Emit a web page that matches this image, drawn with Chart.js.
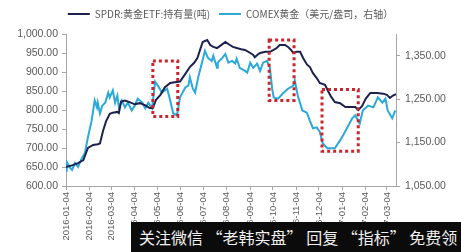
<!DOCTYPE html>
<html>
<head>
<meta charset="utf-8">
<script src="https://cdn.jsdelivr.net/npm/chart.js@4/dist/chart.umd.min.js"></script>
<style>
body { margin: 0; background: #fff; }
#wrap { position: relative; width: 461px; height: 252px; }
#mark { position: absolute; left: 131px; top: 222px; width: 330px; height: 30px; background: #0b0b0b; color: #f0f0f0;
        font: 16px "Noto Sans CJK SC"; line-height: 30px; padding-left: 8px; box-sizing: border-box; white-space: nowrap; overflow: hidden; }
</style>
</head>
<body>
<div id="wrap">
  <canvas id="c" width="461" height="252"></canvas>
  <div id="mark">关注微信 “老韩实盘” 回复 “指标” 免费领</div>
</div>
<script>
// days counted from 2016-01-04
const monthDay = [0, 31, 60, 91, 121, 152, 182, 213, 244, 274, 305, 335, 366, 397, 425];
const monthLabel = ['2016-01-04', '2016-02-04', '2016-03-04', '2016-04-04', '2016-05-04', '2016-06-04', '2016-07-04',
    '2016-08-04', '2016-09-04', '2016-10-04', '2016-11-04', '2016-12-04', '2017-01-04', '2017-02-04', '2017-03-04'];

// SPDR 黄金ETF 持有量 (吨)
const spdrDay = [0, 9, 16, 23, 29, 36, 42, 45, 49, 53, 58, 62, 68, 70, 73, 78, 85, 91, 98, 105, 111, 115, 119, 125, 131,
    138, 144, 151, 158, 164, 170, 174, 177, 181, 187, 191, 195, 200, 205, 211, 217, 221, 226, 232, 237, 244, 248, 250, 254, 257,
    264, 270, 275, 279, 283, 290, 294, 298, 301, 305, 310, 314, 319, 323, 327, 332, 336, 343, 347, 351, 356, 363, 370, 376, 383,
    387, 392, 397, 403, 412, 420, 425, 429, 433, 437];
const spdrTons = [650, 655, 660, 668, 700, 708, 710, 712, 745, 770, 790, 793, 795, 792, 822, 825, 820, 815, 818, 812, 805, 805, 826, 840, 860,
    871, 873, 875, 895, 913, 925, 937, 955, 979, 984, 971, 966, 963, 970, 979, 971, 966, 963, 960, 958, 950, 945, 939, 946, 950,
    953, 953, 958, 963, 971, 971, 966, 958, 950, 953, 953, 937, 920, 913, 897, 884, 871, 866, 850, 835, 821, 818, 808, 808, 808,
    800, 810, 830, 845, 845, 843, 840, 832, 838, 842];

// COMEX 黄金 (美元/盎司)
const comexDay = [0, 1, 5, 8, 12, 16, 21, 25, 29, 34, 38, 41, 42, 45, 48, 52, 56, 58, 62, 65, 68, 70, 74, 78, 82,
    87, 91, 95, 101, 105, 109, 114, 118, 122, 127, 134, 138, 142, 147, 151, 158, 162, 164, 168, 171, 175, 180, 184, 188, 193,
    195, 200, 201, 207, 211, 215, 220, 224, 226, 230, 237, 240, 244, 248, 253, 257, 261, 266, 270, 273, 275, 281, 287, 294, 301,
    303, 307, 313, 319, 323, 327, 332, 336, 340, 346, 352, 356, 363, 367, 372, 379, 383, 389, 393, 400, 407, 413, 419, 423, 426,
    432, 436];
const comexPrice = [1085, 1105, 1093, 1087, 1103, 1094, 1114, 1126, 1162, 1201, 1247, 1231, 1242, 1217, 1235, 1242, 1265, 1254, 1270, 1242,
    1258, 1231, 1247, 1231, 1242, 1224, 1235, 1251, 1242, 1229, 1242, 1229, 1290, 1280, 1265, 1274, 1247, 1217, 1213, 1254,
    1277, 1281, 1300, 1274, 1265, 1300, 1334, 1361, 1345, 1338, 1350, 1322, 1334, 1345, 1354, 1334, 1338, 1332, 1343, 1322,
    1315, 1311, 1334, 1322, 1332, 1315, 1334, 1338, 1322, 1274, 1254, 1251, 1263, 1274, 1281, 1293, 1258, 1224, 1219, 1200,
    1183, 1185, 1175, 1148, 1137, 1137, 1137, 1155, 1167, 1183, 1206, 1213, 1194, 1224, 1235, 1231, 1254, 1242, 1251, 1224,
    1206, 1224];

const rightTicks = [1050, 1150, 1250, 1350];

// 红色虚线框 (日期范围, 右轴价格范围)
const boxFrom = [115, 269, 339];
const boxTo = [148, 302, 387];
const boxHigh = [1338, 1386, 1272];
const boxLow = [1210, 1247, 1130];

function fmt(v) {
    let s = v.toFixed(2);
    let [a, b] = s.split('.');
    a = a.replace(/\B(?=(\d{3})+(?!\d))/g, ',');
    return a + '.' + b;
}

const legendHeight = {
    id: 'legendHeight',
    beforeInit(chart) {
        const fit = chart.legend.fit;
        chart.legend.fit = function () {
            fit.bind(chart.legend)();
            this.height = 34;
        };
    }
};

const redBoxes = {
    id: 'redBoxes',
    afterDatasetsDraw(chart) {
        const ctx = chart.ctx;
        const x = chart.scales.x, y1 = chart.scales.y1;
        ctx.save();
        ctx.strokeStyle = '#c9252c';
        ctx.lineWidth = 3;
        ctx.setLineDash([3, 3]);
        for (let i = 0; i < boxFrom.length; i++) {
            const x0 = x.getPixelForValue(boxFrom[i]);
            const x1 = x.getPixelForValue(boxTo[i]);
            const yt = y1.getPixelForValue(boxHigh[i]);
            const yb = y1.getPixelForValue(boxLow[i]);
            ctx.strokeRect(x0, yt, x1 - x0, yb - yt);
        }
        ctx.restore();
    }
};

const axisGrid = { display: true, drawOnChartArea: false, drawTicks: true, tickLength: 4, color: '#a6a6a6' };
const tickFont = { family: 'Liberation Sans', size: 10.5 };

new Chart(document.getElementById('c'), {
    type: 'line',
    data: {
        datasets: [{
            label: 'SPDR:黄金ETF:持有量(吨)',
            data: spdrDay.map((d, i) => ({ x: d, y: spdrTons[i] })),
            borderColor: '#1d2150',
            backgroundColor: '#1d2150',
            borderWidth: 2,
            pointRadius: 0,
            tension: 0,
            yAxisID: 'y'
        }, {
            label: 'COMEX黄金（美元/盎司，右轴）',
            data: comexDay.map((d, i) => ({ x: d, y: comexPrice[i] })),
            borderColor: '#2ba9d8',
            backgroundColor: '#2ba9d8',
            borderWidth: 2,
            pointRadius: 0,
            tension: 0,
            yAxisID: 'y1'
        }]
    },
    options: {
        responsive: false,
        animation: false,
        layout: { padding: 0 },
        plugins: {
            legend: {
                position: 'top',
                labels: {
                    usePointStyle: true,
                    pointStyle: 'line',
                    pointStyleWidth: 22,
                    padding: 9,
                    color: '#595959',
                    font: { family: 'Noto Sans CJK SC', size: 10 }
                }
            },
            tooltip: { enabled: false }
        },
        scales: {
            x: {
                type: 'linear',
                min: 0,
                max: 437,
                afterBuildTicks: s => { s.ticks = monthDay.map(v => ({ value: v })); },
                afterFit: s => { s.height = 66; },
                ticks: {
                    autoSkip: false,
                    minRotation: 90,
                    maxRotation: 90,
                    padding: 2,
                    color: '#595959',
                    font: { family: 'Liberation Sans', size: 9.5 },
                    callback: (v, i) => monthLabel[i]
                },
                grid: axisGrid,
                border: { display: true, color: '#a6a6a6' }
            },
            y: {
                position: 'left',
                min: 600,
                max: 1000,
                afterFit: s => { s.width = 66; },
                ticks: { stepSize: 50, padding: 4, color: '#595959', font: tickFont, callback: v => fmt(v) },
                grid: axisGrid,
                border: { display: true, color: '#a6a6a6' }
            },
            y1: {
                position: 'right',
                min: 1050,
                max: 1400,
                afterBuildTicks: s => { s.ticks = rightTicks.map(v => ({ value: v })); },
                afterFit: s => { s.width = 65; },
                ticks: { padding: 5, color: '#595959', font: tickFont, callback: v => fmt(v) },
                grid: axisGrid,
                border: { display: true, color: '#a6a6a6' }
            }
        }
    },
    plugins: [legendHeight, redBoxes]
});
</script>
</body>
</html>
